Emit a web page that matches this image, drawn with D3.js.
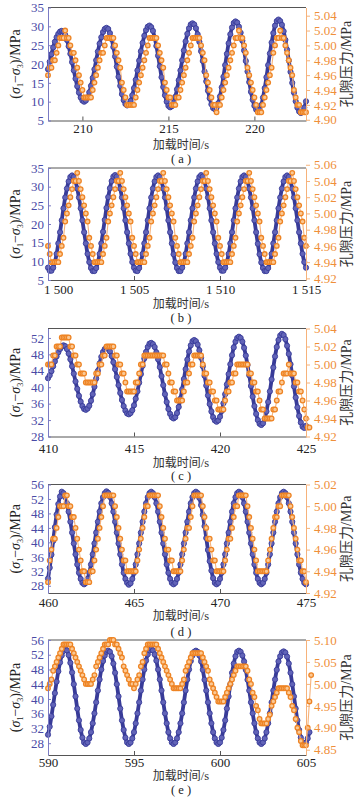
<!DOCTYPE html>
<html>
<head>
<meta charset="utf-8">
<script src="https://cdn.jsdelivr.net/npm/d3@7"></script>
<style>
  body { margin: 0; background: #fff; }
  svg { display: block; }
</style>
</head>
<body>
<svg id="chart" width="362" height="800"></svg>
<script>
// sampling step of both series (s)
const dt = 0.1;

// ---- panel (a) ----
const aStart = 208;
const aStress = [18.6,20.6,22.6,24.4,25.9,27.1,28.0,28.6,28.8,
  28.5,27.7,26.4,24.7,22.7,20.5,18.3,16.1,14.1,12.4,11.1,10.3,10.0,
  10.3,11.1,12.5,14.2,16.3,18.6,21.0,23.3,25.4,27.1,28.5,29.3,29.6,
  29.3,28.2,26.6,24.5,22.0,19.3,16.6,14.2,12.0,10.4,9.4,9.0,
  9.3,10.2,11.7,13.6,15.8,18.3,20.9,23.4,25.6,27.5,29.0,29.9,30.2,
  29.8,28.8,27.0,24.8,22.2,19.4,16.5,13.9,11.7,10.0,8.9,8.5,
  8.8,9.8,11.3,13.3,15.7,18.3,21.0,23.6,26.0,28.0,29.5,30.5,30.8,
  30.5,29.5,27.9,25.9,23.4,20.8,18.0,15.4,12.9,10.9,9.3,8.3,8.0,
  8.4,9.6,11.4,13.8,16.6,19.7,22.7,25.5,27.9,29.7,30.9,31.3,
  31.0,29.9,28.3,26.2,23.6,20.8,18.0,15.2,12.6,10.5,8.9,7.9,7.5,
  7.9,9.1,11.1,13.6,16.5,19.7,22.8,25.7,28.2,30.2,31.4,31.8,
  31.4,30.4,28.7,26.4,23.8,20.9,17.9,15.0,12.4,10.1,8.4,7.4,7.0,
  7.4,8.4,10.1];
const aPore = [4.96,4.97,4.97,4.98,4.98,4.99,5.00,5.01,5.01,5.01,5.02,
  5.01,5.01,5.00,4.99,4.99,4.98,4.97,4.96,4.95,4.94,4.93,4.93,4.93,
  4.93,4.93,4.94,4.95,4.96,4.97,4.98,4.99,4.99,5.00,5.01,5.01,5.01,
  5.01,5.01,5.00,4.99,4.98,4.97,4.95,4.94,4.93,4.92,4.92,4.92,
  4.92,4.92,4.93,4.94,4.95,4.96,4.97,4.98,4.99,5.00,5.01,5.01,5.01,
  5.01,5.01,5.00,4.99,4.98,4.97,4.95,4.94,4.93,4.93,4.92,4.92,
  4.92,4.93,4.93,4.94,4.95,4.96,4.97,4.98,4.99,5.00,5.01,5.01,5.01,
  5.01,5.01,5.00,4.99,4.98,4.96,4.95,4.94,4.93,4.92,4.92,4.91,
  4.92,4.92,4.93,4.94,4.95,4.96,4.97,4.98,4.99,5.00,5.01,5.01,5.02,
  5.01,5.01,5.00,4.99,4.97,4.96,4.95,4.94,4.93,4.92,4.91,4.91,
  4.91,4.92,4.93,4.94,4.95,4.96,4.97,4.99,5.00,5.01,5.01,5.02,
  5.01,5.01,5.00,4.99,4.98,4.97,4.96,4.94,4.93,4.92,4.92,4.91,4.91,
  4.91,4.91];
const aTimeTicks = [210, 215, 220];
const aStressTicks = [5, 10, 15, 20, 25, 30, 35];
const aPoreTicks = [4.90, 4.92, 4.94, 4.96, 4.98, 5.00, 5.02, 5.04];

// ---- panel (b) ----
const bStart = 1500;
const bStress = [8.3,7.5,7.5,8.3,9.8,12.0,14.8,17.8,21.0,24.2,27.1,29.5,31.4,32.6,33.0,32.6,31.4,29.5,27.1,24.2,21.0,17.8,14.8,12.0,9.8,
  8.2,7.4,7.4,8.2,9.7,12.0,14.8,17.9,21.1,24.3,27.2,29.6,31.5,32.7,33.1,32.7,31.5,29.5,27.1,24.2,21.0,17.8,14.8,12.0,9.8,
  8.3,7.5,7.4,8.2,9.8,12.0,14.8,17.8,21.0,24.2,27.1,29.5,31.4,32.6,33.0,32.6,31.4,29.5,27.1,24.2,21.0,17.8,14.8,11.9,9.7,
  8.2,7.4,7.4,8.3,9.8,12.0,14.8,17.8,21.0,24.2,27.1,29.5,31.4,32.6,33.1,32.7,31.4,29.5,27.1,24.2,21.0,17.8,14.8,12.0,9.8,
  8.3,7.5,7.5,8.3,9.8,12.0,14.8,17.8,21.0,24.2,27.1,29.5,31.4,32.6,33.0,32.6,31.4,29.5,27.1,24.2,21.0,17.8,14.7,11.9,9.7,
  8.2,7.4,7.4,8.2,9.8,12.0,14.8,17.8,21.0,24.2,27.1,29.5,31.4,32.6,33.0,32.6,31.4,29.5,27.1,24.2,21.0,17.8,14.8,12.0,9.8,
  8.3];
const bPore = [4.96,4.95,4.94,4.94,4.94,4.94,4.94,4.95,4.96,4.97,4.99,5.00,5.01,5.02,5.03,5.04,5.04,5.05,5.04,5.03,5.02,5.01,5.00,4.99,4.97,
  4.96,4.95,4.94,4.94,4.94,4.94,4.94,4.95,4.96,4.97,4.99,5.00,5.01,5.02,5.03,5.04,5.04,5.05,5.04,5.03,5.02,5.01,5.00,4.99,4.97,
  4.96,4.95,4.94,4.94,4.94,4.94,4.94,4.95,4.96,4.97,4.99,5.00,5.01,5.02,5.03,5.04,5.04,5.05,5.04,5.03,5.02,5.01,5.00,4.99,4.97,
  4.96,4.95,4.94,4.94,4.94,4.94,4.94,4.95,4.96,4.97,4.99,5.00,5.01,5.02,5.03,5.04,5.04,5.05,5.04,5.03,5.02,5.01,5.00,4.99,4.97,
  4.96,4.95,4.94,4.94,4.94,4.94,4.94,4.95,4.96,4.97,4.99,5.00,5.01,5.02,5.03,5.04,5.04,5.05,5.04,5.03,5.02,5.01,5.00,4.99,4.97,
  4.96,4.95,4.94,4.94,4.94,4.94,4.94,4.95,4.96,4.97,4.99,5.00,5.01,5.02,5.03,5.04,5.04,5.05,5.04,5.03,5.02,5.01,5.00,4.99,4.97,
  4.96];
const bTimeTicks = [1500, 1505, 1510, 1515];
const bStressTicks = [5, 10, 15, 20, 25, 30, 35];
const bPoreTicks = [4.92, 4.94, 4.96, 4.98, 5.00, 5.02, 5.04, 5.06];

// ---- panel (c) ----
const cStart = 410;
const cStress = [42.2,42.9,43.9,45.1,46.3,47.5,48.5,49.3,49.9,50.2,
  50.0,49.3,48.2,46.8,45.1,43.3,41.4,39.6,37.9,36.5,35.4,34.7,34.5,
  34.8,35.5,36.7,38.3,40.1,42.1,44.0,45.8,47.4,48.6,49.3,49.6,
  49.4,48.7,47.6,46.1,44.4,42.5,40.5,38.6,36.9,35.4,34.3,33.6,33.4,
  33.7,34.4,35.6,37.2,39.0,41.1,43.2,45.2,47.0,48.6,49.8,50.6,50.8,
  50.5,49.8,48.5,46.8,44.9,42.7,40.5,38.3,36.4,34.7,33.5,32.7,32.4,
  32.7,33.7,35.2,37.2,39.5,42.0,44.4,46.7,48.7,50.2,51.2,51.5,
  51.2,50.4,49.0,47.2,45.1,42.8,40.4,38.0,35.9,34.1,32.7,31.9,31.6,
  31.9,32.8,34.2,36.1,38.3,40.7,43.2,45.6,47.8,49.7,51.1,52.0,52.3,
  52.0,51.1,49.6,47.7,45.4,42.9,40.3,37.7,35.4,33.5,32.0,31.1,30.8,
  31.2,32.3,34.1,36.4,39.0,41.9,44.8,47.5,49.8,51.5,52.6,53.0,
  52.7,51.7,50.1,48.1,45.6,42.9,40.2,37.5,35.1,33.0,31.4,30.4,30.1,
  30.6];
const cPore = [5.00,5.00,5.00,5.01,5.01,5.02,5.02,5.02,5.03,5.03,
  5.03,5.03,5.03,5.02,5.02,5.01,5.01,5.00,5.00,4.99,
  4.99,4.99,4.98,4.98,4.98,4.98,4.98,4.98,4.99,4.99,
  5.00,5.00,5.01,5.01,5.02,5.02,5.02,5.02,5.02,5.01,
  5.01,5.00,5.00,4.99,4.99,4.98,4.97,4.97,4.97,4.97,
  4.97,4.98,4.98,4.99,5.00,5.00,5.01,5.01,5.01,5.01,
  5.01,5.01,5.01,5.01,5.01,5.01,5.01,5.01,5.00,5.00,
  4.99,4.98,4.98,4.97,4.97,4.96,4.96,4.96,4.96,4.97,
  4.98,4.98,4.99,5.00,5.00,5.01,5.01,5.01,5.01,5.01,
  5.00,4.99,4.99,4.98,4.98,4.97,4.97,4.96,4.96,4.95,
  4.95,4.95,4.95,4.96,4.97,4.97,4.98,4.98,4.99,4.99,
  5.00,5.00,5.00,5.00,5.00,5.00,5.00,4.99,4.99,4.98,
  4.98,4.97,4.97,4.96,4.95,4.95,4.94,4.94,4.94,4.94,
  4.94,4.95,4.95,4.96,4.97,4.97,4.98,4.99,4.99,4.99,
  5.00,4.99,4.99,4.99,4.98,4.98,4.97,4.97,4.96,4.95,
  4.94,4.93,4.93];
const cTimeTicks = [410, 415, 420, 425];
const cStressTicks = [28, 32, 36, 40, 44, 48, 52];
const cPoreTicks = [4.92, 4.94, 4.96, 4.98, 5.00, 5.02, 5.04];

// ---- panel (d) ----
const dStart = 460;
const dStress = [30.0,33.0,36.6,40.4,44.2,47.7,50.6,52.7,54.0,
  53.6,52.5,50.8,48.5,45.7,42.7,39.7,36.7,33.9,31.6,29.9,28.8,28.4,
  28.8,29.9,31.6,33.9,36.7,39.7,42.7,45.7,48.5,50.8,52.5,53.6,54.1,
  53.7,52.6,50.8,48.5,45.7,42.7,39.7,36.7,33.9,31.6,29.9,28.8,28.3,
  28.7,29.9,31.6,33.9,36.7,39.7,42.7,45.7,48.5,50.8,52.5,53.6,54.0,
  53.6,52.5,50.8,48.5,45.7,42.7,39.7,36.7,33.9,31.6,29.9,28.8,28.4,
  28.8,29.9,31.6,33.9,36.7,39.7,42.7,45.7,48.5,50.8,52.5,53.6,54.0,
  53.6,52.3,50.3,47.6,44.5,41.2,37.9,34.8,32.2,30.1,28.8,28.4,
  28.8,29.9,31.6,33.9,36.7,39.7,42.7,45.7,48.5,50.8,52.5,53.6,54.0,
  53.6,52.5,50.8,48.5,45.7,42.7,39.7,36.7,33.9,31.6,29.9,28.8,28.4,
  28.8,29.9,31.6,33.9,36.7,39.7,42.7,45.7,48.5,50.8,52.5,53.6,54.0,
  53.6,52.5,50.8,48.5,45.7,42.7,39.7,36.7,33.9,31.6,29.9,28.8,28.4];
const dPore = [4.93,4.95,4.96,4.97,4.97,4.98,4.99,5.00,5.00,5.00,
  5.01,5.01,5.00,5.00,4.99,4.99,4.98,4.97,4.96,4.95,
  4.94,4.94,4.93,4.93,4.93,4.94,4.94,4.95,4.96,4.97,
  4.98,4.99,5.00,5.01,5.01,5.01,5.01,5.01,5.01,5.00,
  4.99,4.98,4.97,4.96,4.95,4.95,4.94,4.94,4.94,4.94,
  4.94,4.94,4.95,4.96,4.97,4.98,4.99,5.00,5.00,5.01,
  5.01,5.01,5.01,5.01,5.01,5.00,4.99,4.98,4.97,4.96,
  4.96,4.95,4.95,4.94,4.94,4.94,4.94,4.94,4.95,4.96,
  4.97,4.98,4.98,4.99,5.00,5.01,5.01,5.01,5.01,5.01,
  5.00,4.99,4.98,4.97,4.97,4.96,4.95,4.95,4.94,4.94,
  4.94,4.94,4.94,4.95,4.96,4.97,4.97,4.98,4.99,5.00,
  5.00,5.01,5.01,5.01,5.01,5.01,5.00,4.99,4.98,4.97,
  4.96,4.95,4.94,4.94,4.94,4.94,4.94,4.94,4.95,4.96,
  4.97,4.98,4.99,4.99,5.00,5.00,5.01,5.01,5.01,5.01,
  5.01,5.00,4.99,4.98,4.97,4.96,4.95,4.95,4.94,4.94,
  4.93];
const dTimeTicks = [460, 465, 470, 475];
const dStressTicks = [28, 32, 36, 40, 44, 48, 52, 56];
const dPoreTicks = [4.92, 4.94, 4.96, 4.98, 5.00, 5.02];

// ---- panel (e) ----
const eStart = 590;
const eStress = [30.3,32.5,35.3,38.4,41.6,44.7,47.5,49.9,51.8,53.0,53.6,
  53.2,51.9,49.8,47.2,44.0,40.7,37.4,34.2,31.6,29.5,28.2,27.8,
  28.2,29.3,31.0,33.4,36.1,39.1,42.3,45.3,48.0,50.3,51.8,52.8,53.1,
  52.8,51.6,49.6,47.1,44.0,40.7,37.4,34.2,31.6,29.5,28.2,27.8,
  28.2,29.3,31.0,33.4,36.1,39.1,42.3,45.3,48.0,50.4,52.1,53.2,53.6,
  53.2,52.1,50.4,48.0,45.3,42.3,39.1,36.1,33.4,31.0,29.3,28.2,27.8,
  28.2,29.3,31.0,33.4,36.1,39.1,42.3,45.3,48.0,50.3,51.8,52.8,53.1,
  52.8,51.8,50.2,47.9,45.2,42.3,39.1,36.1,33.4,31.0,29.3,28.2,27.8,
  28.2,29.5,31.6,34.2,37.4,40.7,44.0,47.1,49.6,51.6,52.8,53.1,
  52.8,51.8,50.2,47.9,45.2,42.3,39.1,36.1,33.4,31.0,29.3,28.2,27.8,
  28.2,29.3,31.0,33.4,36.1,39.1,42.3,45.3,47.9,50.2,51.6,52.6,52.9,
  52.6,51.5,49.6,47.1,44.0,40.7,37.4,34.2,31.6,29.5,28.2,27.8,
  28.2,29.3,31.0];
const ePore = [4.99,5.00,5.01,5.03,5.04,5.05,5.06,5.07,5.08,5.09,
  5.09,5.09,5.09,5.09,5.08,5.07,5.06,5.05,5.04,5.03,
  5.02,5.01,5.00,5.00,5.00,5.00,5.01,5.02,5.04,5.05,
  5.06,5.07,5.08,5.09,5.09,5.09,5.10,5.10,5.10,5.09,
  5.09,5.08,5.07,5.06,5.04,5.03,5.02,5.01,5.00,5.00,
  4.99,5.00,5.01,5.02,5.04,5.05,5.07,5.08,5.09,5.09,
  5.09,5.09,5.09,5.09,5.08,5.07,5.06,5.05,5.04,5.03,
  5.02,5.01,5.00,4.99,4.99,4.99,4.99,4.99,5.00,5.01,
  5.03,5.04,5.05,5.06,5.07,5.07,5.07,5.07,5.07,5.07,
  5.06,5.05,5.04,5.03,5.01,5.00,4.99,4.98,4.97,4.96,
  4.96,4.96,4.96,4.97,4.98,4.99,5.00,5.01,5.02,5.03,
  5.04,5.04,5.04,5.04,5.04,5.04,5.03,5.01,5.00,4.98,
  4.97,4.95,4.94,4.92,4.91,4.91,4.91,4.91,4.92,4.93,
  4.95,4.96,4.97,4.98,4.99,4.99,4.99,4.99,4.99,4.99,
  4.98,4.97,4.95,4.94,4.92,4.90,4.89,4.87,4.86,4.86,
  4.86,4.90,4.96,5.02];
const eTimeTicks = [590, 595, 600, 605];
const eStressTicks = [28, 32, 36, 40, 44, 48, 52, 56];
const ePoreTicks = [4.85, 4.90, 4.95, 5.00, 5.05, 5.10];

const panels = [
  { cap: "a", start: aStart, stress: aStress, pore: aPore, xDom: [208, 223], yDom: [5, 35], pDom: [4.899, 5.051],
    xt: aTimeTicks, yt: aStressTicks, pt: aPoreTicks, top: 7.5, bottom: 120.5, tickY: 12.5, labY: 28, capY: 42 },
  { cap: "b", start: bStart, stress: bStress, pore: bPore, xDom: [1500, 1515], yDom: [5, 35], pDom: [4.918, 5.056],
    xt: bTimeTicks, yt: bStressTicks, pt: bPoreTicks, top: 168, bottom: 280, tickY: 14, labY: 27.5, capY: 41.5 },
  { cap: "c", start: cStart, stress: cStress, pore: cPore, xDom: [410, 425], yDom: [28, 54.3], pDom: [4.92, 5.04],
    xt: cTimeTicks, yt: cStressTicks, pt: cPoreTicks, top: 328.5, bottom: 436.5, tickY: 16, labY: 30, capY: 43.5 },
  { cap: "d", start: dStart, stress: dStress, pore: dPore, xDom: [460, 475], yDom: [26, 56], pDom: [4.92, 5.02],
    xt: dTimeTicks, yt: dStressTicks, pt: dPoreTicks, top: 484.5, bottom: 593, tickY: 14, labY: 27, capY: 43 },
  { cap: "e", start: eStart, stress: eStress, pore: ePore, xDom: [590, 605], yDom: [24.8, 56], pDom: [4.838, 5.10],
    xt: eTimeTicks, yt: eStressTicks, pt: ePoreTicks, top: 640, bottom: 755, tickY: 12, labY: 24.5, capY: 39 }
];

const svg = d3.select("#chart");
const left = 48, right = 306;
const serif = "'Liberation Serif', 'DejaVu Serif', serif";
const blue = "#383b98", blueText = "#4a4aa6", blueAxis = "#7b7bc4";
const orange = "#ee8424", orangeText = "#ef8f3a", orangeAxis = "#f6b27a";

panels.forEach(p => {
  const g = svg.append("g");
  const x = d3.scaleLinear().domain(p.xDom).range([left, right]);
  const y = d3.scaleLinear().domain(p.yDom).range([p.bottom, p.top]);
  const y2 = d3.scaleLinear().domain(p.pDom).range([p.bottom, p.top]);
  const tOf = i => p.start + i * dt;

  // top frame
  g.append("line").attr("x1", left).attr("x2", right).attr("y1", p.top).attr("y2", p.top)
    .attr("stroke", "#555").attr("stroke-width", 1);

  // stress series
  const sLine = d3.line().x((d, i) => x(tOf(i))).y(d => y(d)).curve(d3.curveCatmullRom);
  g.append("path").datum(p.stress).attr("d", sLine)
    .attr("fill", "none").attr("stroke", blue).attr("stroke-width", 3.8);
  g.append("g").selectAll("circle").data(p.stress).join("circle")
    .attr("cx", (d, i) => x(tOf(i))).attr("cy", d => y(d)).attr("r", 2.6)
    .attr("fill", "#6264b8").attr("stroke", blue).attr("stroke-width", 0.9);

  // pore pressure series
  const pLine = d3.line().x((d, i) => x(tOf(i))).y(d => y2(d));
  g.append("path").datum(p.pore).attr("d", pLine)
    .attr("fill", "none").attr("stroke", orangeAxis).attr("stroke-width", 1.1);
  g.append("g").selectAll("circle").data(p.pore).join("circle")
    .attr("cx", (d, i) => x(tOf(i))).attr("cy", d => y2(d)).attr("r", 2.3)
    .attr("fill", "#fbc995").attr("stroke", orange).attr("stroke-width", 1.3);

  // bottom axis
  const xa = g.append("g").attr("transform", `translate(0,${p.bottom})`)
    .call(d3.axisBottom(x).tickValues(p.xt).tickSizeInner(-4).tickSizeOuter(0)
      .tickFormat(d => d >= 1000 ? String(d).replace(/^(\d)(\d{3})$/, "$1 $2") : d));
  xa.select(".domain").attr("stroke", "#555");
  xa.selectAll(".tick line").attr("stroke", "#555");
  xa.selectAll("text").attr("y", p.tickY).attr("dy", null)
    .attr("font-family", serif).attr("font-size", 13).attr("fill", "#222")
    // the first wide label sits clear of the left axis, as in the source figure
    .attr("dx", (d, i) => i === 0 && d >= 1000 ? 10 : 0);

  // left axis
  const ya = g.append("g").attr("transform", `translate(${left},0)`)
    .call(d3.axisLeft(y).tickValues(p.yt).tickSizeInner(-3).tickSizeOuter(0).tickPadding(4));
  ya.select(".domain").attr("stroke", blueAxis);
  ya.selectAll(".tick line").attr("stroke", blueAxis);
  ya.selectAll("text").attr("font-family", serif).attr("font-size", 13).attr("fill", blueText);

  // right axis
  const pa = g.append("g").attr("transform", `translate(${right},0)`)
    .call(d3.axisRight(y2).tickValues(p.pt).tickSizeInner(4).tickSizeOuter(0).tickPadding(4)
      .tickFormat(d3.format(".2f")));
  pa.select(".domain").attr("stroke", orangeAxis);
  pa.selectAll(".tick line").attr("stroke", orangeAxis);
  pa.selectAll("text").attr("font-family", serif).attr("font-size", 13).attr("fill", orangeText);

  const mid = (p.top + p.bottom) / 2;

  // left title (σ1−σ3)/MPa
  const lt = g.append("text").attr("transform", `translate(20,${mid}) rotate(-90)`)
    .attr("text-anchor", "middle").attr("font-family", serif).attr("font-size", 14).attr("fill", "#222");
  lt.append("tspan").text("(");
  lt.append("tspan").attr("font-style", "italic").text("σ");
  lt.append("tspan").attr("font-size", 8).attr("dy", 3).text("1");
  lt.append("tspan").attr("dy", -3).text("−");
  lt.append("tspan").attr("font-style", "italic").text("σ");
  lt.append("tspan").attr("font-size", 8).attr("dy", 3).text("3");
  lt.append("tspan").attr("dy", -3).text(")/MPa");

  // right title
  const rt = g.append("text").attr("transform", `translate(351,${mid}) rotate(-90)`)
    .attr("text-anchor", "middle").attr("font-size", 14).attr("fill", "#333");
  rt.append("tspan").attr("font-family", "'Noto Sans CJK SC'").text("孔隙压力");
  rt.append("tspan").attr("font-family", serif).text("/MPa");

  // x title and caption
  const xt = g.append("text").attr("x", 181).attr("y", p.bottom + p.labY)
    .attr("text-anchor", "middle").attr("font-size", 12).attr("fill", "#333");
  xt.append("tspan").attr("font-family", "'Noto Sans CJK SC'").text("加载时间");
  xt.append("tspan").attr("font-family", serif).attr("font-size", 12.5).text("/s");

  g.append("text").attr("x", 181).attr("y", p.bottom + p.capY)
    .attr("text-anchor", "middle").attr("font-family", serif).attr("font-size", 12.5).attr("fill", "#222")
    .text(`( ${p.cap} )`);
});
</script>
</body>
</html>
